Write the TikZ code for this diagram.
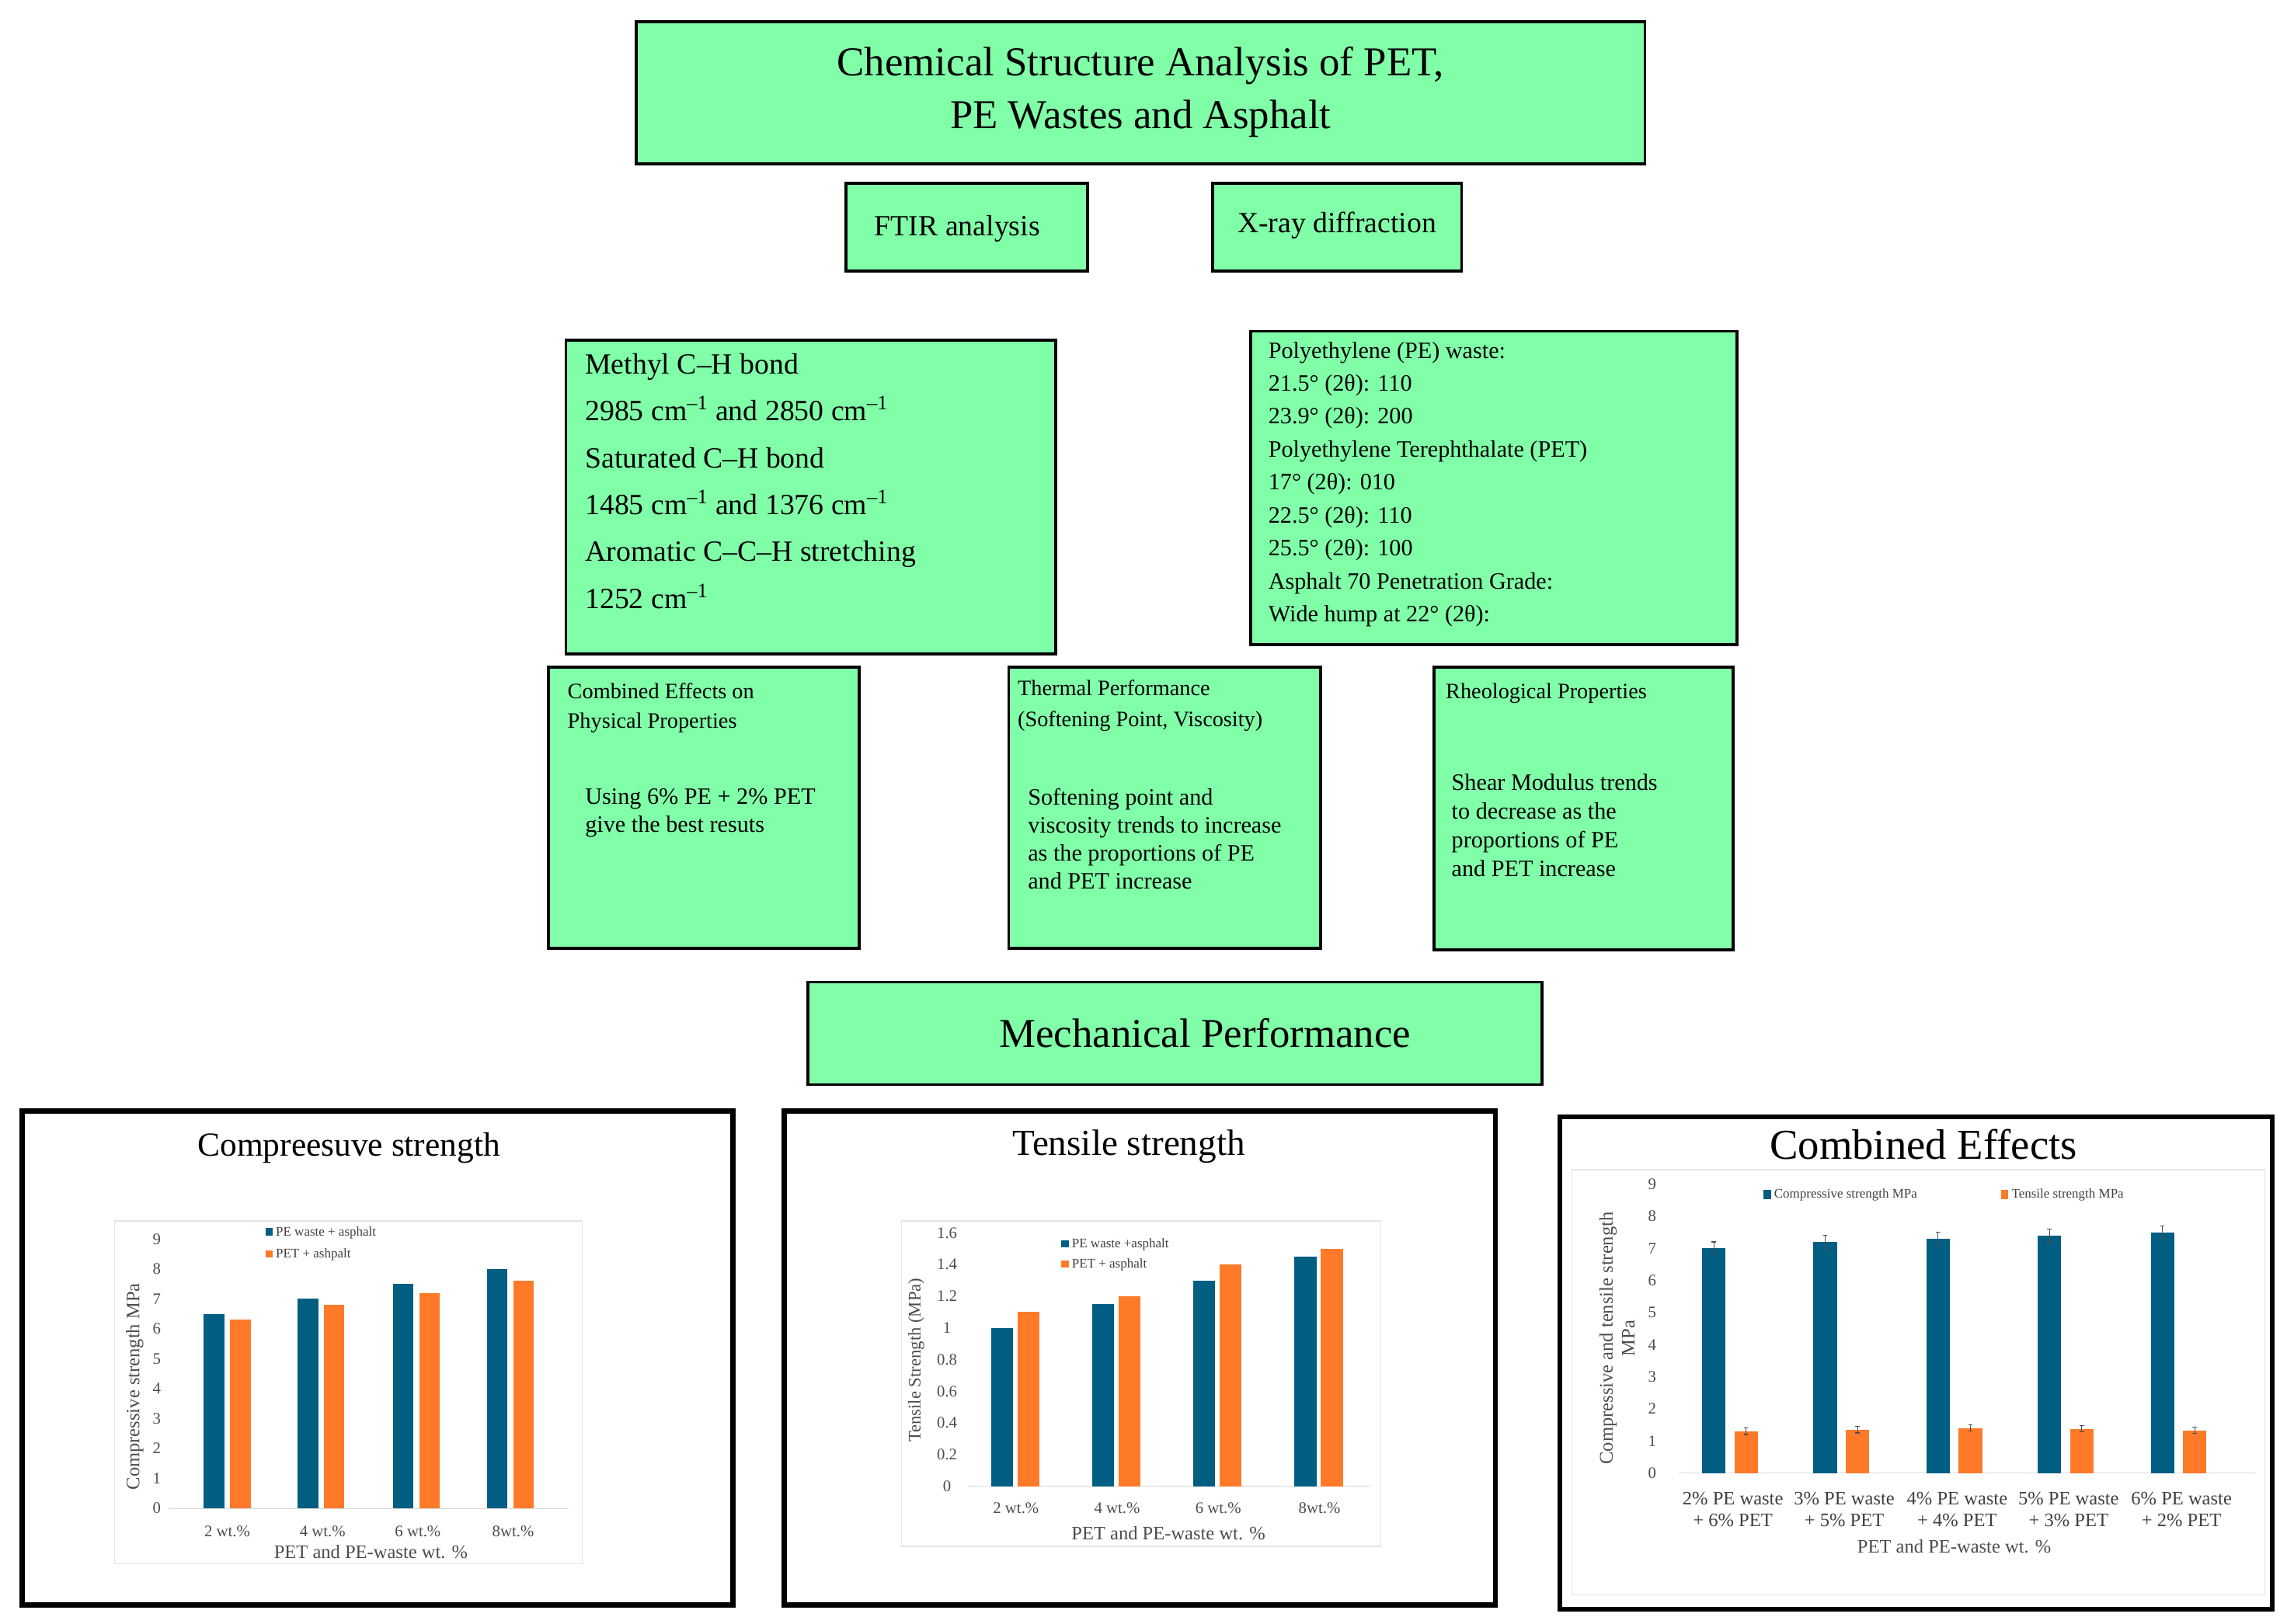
\documentclass[tikz,border=0pt]{standalone}
\usepackage{fontspec}
\setmainfont{Liberation Serif}
\definecolor{gbox}{RGB}{128,255,168}
\definecolor{cblue}{RGB}{0,94,130}
\definecolor{corange}{RGB}{255,122,40}
\begin{document}
\begin{tikzpicture}[x=1pt,y=-1pt,
  box/.style={draw=black,line width=2pt,fill=gbox},
  frame/.style={draw=black,line width=3.5pt},
  inner/.style={draw=black!10,line width=0.6pt},
  txt/.style={inner sep=0pt,align=left,anchor=north west},
  tick/.style={inner sep=0pt,font=\fontsize{11}{11}\selectfont,text=black!70},
  leg/.style={inner sep=0pt,anchor=west,font=\fontsize{9}{9}\selectfont,text=black!75}]
\useasboundingbox (0,0) rectangle (1560,1108);
% top boxes
\draw[box] (434,15) rectangle (1122,112);
\node[align=center,font=\fontsize{28}{36}\selectfont] (title) at (778,63) {Chemical Structure Analysis of PET,\\PE Wastes and Asphalt};
\draw[box] (577,125) rectangle (742,185);
\node[font=\fontsize{20}{24}\selectfont] (ftir) at (653,156) {FTIR analysis};
\draw[box] (827,125) rectangle (997,185);
\node[font=\fontsize{20}{24}\selectfont] (xrd) at (912,154) {X-ray diffraction};
% FTIR details
\draw[box] (386,232) rectangle (720,446);
\node[txt,font=\fontsize{20}{32}\selectfont] (methyl) at (399,241) {Methyl C–H bond\\
2985 cm\textsuperscript{–1} and 2850 cm\textsuperscript{–1}\\
Saturated C–H bond\\
1485 cm\textsuperscript{–1} and 1376 cm\textsuperscript{–1}\\
Aromatic C–C–H stretching\\
1252 cm\textsuperscript{–1}};
% XRD details
\draw[box] (853,226) rectangle (1185,440);
\node[txt,font=\fontsize{16}{22.5}\selectfont] (xrdd) at (865,233) {Polyethylene (PE) waste:\\
21.5° (2θ): 110\\
23.9° (2θ): 200\\
Polyethylene Terephthalate (PET)\\
17° (2θ): 010\\
22.5° (2θ): 110\\
25.5° (2θ): 100\\
Asphalt 70 Penetration Grade:\\
Wide hump at 22° (2θ):};
% three property boxes
\draw[box] (374,455) rectangle (586,647);
\node[txt,font=\fontsize{15}{20}\selectfont] (comb) at (387,466) {Combined Effects on\\Physical Properties};
\node[txt,font=\fontsize{16}{19}\selectfont] (combt) at (399,538) {Using 6\% PE + 2\% PET\\give the best resuts};
\draw[box] (688,455) rectangle (901,647);
\node[txt,font=\fontsize{15}{21}\selectfont] (therm) at (694,464) {Thermal Performance\\(Softening Point, Viscosity)};
\node[txt,font=\fontsize{16}{19}\selectfont] (thermt) at (701,538) {Softening point and\\viscosity trends to increase\\as the proportions of PE\\ and PET increase};
\draw[box] (978,455) rectangle (1182,648);
\node[txt,font=\fontsize{15}{20}\selectfont] (rheo) at (986,466) {Rheological Properties};
\node[txt,font=\fontsize{16}{19.5}\selectfont] (rheot) at (990,528) {Shear Modulus trends\\ to decrease as the\\proportions of PE\\and PET increase};
% mechanical
\draw[box] (551,670) rectangle (1052,740);
\node[font=\fontsize{28}{32}\selectfont] (mech) at (822,705) {Mechanical Performance};
% ===== chart 1
\draw[frame] (15,758) rectangle (500,1095);
\node[font=\fontsize{23}{26}\selectfont] (c1t) at (238,783) {Compreesuve strength};
\draw[inner] (78,833) rectangle (397,1067);
\draw[black!15] (115,1029) -- (388,1029);
\foreach \v in {0,...,9} \node[tick] at (107,{1029-20.4*\v}) {\v};
\foreach \x/\a/\b in {146/6.5/6.3, 210/7/6.8, 275/7.5/7.2, 339/8/7.6}{
  \fill[cblue] (\x-7,1029) rectangle (\x+7,{1029-20.4*\a});
  \fill[corange] (\x+11,1029) rectangle (\x+25,{1029-20.4*\b});}
\foreach \x/\l in {155/2 wt.\%,220/4 wt.\%,285/6 wt.\%,350/8wt.\%} \node[tick] at (\x,1045) {\l};
\node[tick,font=\fontsize{13}{13}\selectfont] (c1x) at (253,1059) {PET and PE-waste wt. \%};
\node[tick,rotate=90,font=\fontsize{13}{13}\selectfont] (c1y) at (92,946) {Compressive strength MPa};
\fill[cblue] (181,838) rectangle (186,843); \node[leg] (l1) at (188,841) {PE waste + asphalt};
\fill[corange] (181,853) rectangle (186,858); \node[leg] (l2) at (188,856) {PET + ashpalt};
% ===== chart 2
\draw[frame] (535,758) rectangle (1020,1095);
\node[font=\fontsize{25}{28}\selectfont] (c2t) at (770,782) {Tensile strength};
\draw[inner] (615,833) rectangle (942,1055);
\draw[black!15] (660,1014) -- (935,1014);
\foreach \v/\s in {0/0,0.2/0.2,0.4/0.4,0.6/0.6,0.8/0.8,1/1,1.2/1.2,1.4/1.4,1.6/1.6} \node[tick] at (646,{1014-108*\v}) {\s};
\foreach \x/\a/\b in {684/1.0/1.1, 753/1.15/1.2, 822/1.3/1.4, 891/1.45/1.5}{
  \fill[cblue] (\x-8,1014) rectangle (\x+7,{1014-108*\a});
  \fill[corange] (\x+10,1014) rectangle (\x+25,{1014-108*\b});}
\foreach \x/\l in {693/2 wt.\%,762/4 wt.\%,831/6 wt.\%,900/8wt.\%} \node[tick] at (\x,1029) {\l};
\node[tick,font=\fontsize{13}{13}\selectfont] (c2x) at (797,1046) {PET and PE-waste wt. \%};
\node[tick,rotate=90,font=\fontsize{12}{12}\selectfont] (c2y) at (625,928) {Tensile Strength (MPa)};
\fill[cblue] (724,846) rectangle (729,851); \node[leg] (l3) at (731,849) {PE waste +asphalt};
\fill[corange] (724,860) rectangle (729,865); \node[leg] (l4) at (731,863) {PET + asphalt};
% ===== chart 3
\draw[frame] (1064,762) rectangle (1550,1098);
\node[font=\fontsize{29}{32}\selectfont] (c3t) at (1312,781) {Combined Effects};
\draw[inner] (1072,798) rectangle (1545,1088);
\draw[black!15] (1145,1005) -- (1538,1005);
\foreach \v in {0,...,9} \node[tick] at (1127,{1005-21.9*\v}) {\v};
\foreach \x/\a/\b in {1169/7.0/1.3, 1245/7.2/1.35, 1322/7.3/1.4, 1398/7.4/1.38, 1475/7.5/1.33}{
  \fill[cblue] (\x-8,1005) rectangle (\x+8,{1005-21.9*\a});
  \fill[corange] (\x+14,1005) rectangle (\x+30,{1005-21.9*\b});
  \draw[black!70,line width=0.6pt] (\x,{1005-21.9*(\a-0.2)}) -- (\x,{1005-21.9*(\a+0.2)})
    (\x-1.5,{1005-21.9*(\a-0.2)}) -- (\x+1.5,{1005-21.9*(\a-0.2)})
    (\x-1.5,{1005-21.9*(\a+0.2)}) -- (\x+1.5,{1005-21.9*(\a+0.2)});
  \draw[black!70,line width=0.6pt] (\x+22,{1005-21.9*(\b-0.1)}) -- (\x+22,{1005-21.9*(\b+0.1)})
    (\x+20.5,{1005-21.9*(\b-0.1)}) -- (\x+23.5,{1005-21.9*(\b-0.1)})
    (\x+20.5,{1005-21.9*(\b+0.1)}) -- (\x+23.5,{1005-21.9*(\b+0.1)});}
\foreach \x/\n/\m in {1182/2/6,1258/3/5,1335/4/4,1411/5/3,1488/6/2}
  \node[tick,align=center,font=\fontsize{13}{15}\selectfont,text=black!75] at (\x,1030) {\n\% PE waste\\+ \m\% PET};
\node[tick,font=\fontsize{13}{13}\selectfont] (c3x) at (1333,1055) {PET and PE-waste wt. \%};
\node[tick,rotate=90,align=center,font=\fontsize{13}{15}\selectfont] (c3y) at (1103,913) {Compressive and tensile strength\\MPa};
\fill[cblue] (1203,812) rectangle (1208,818); \node[leg] (l5) at (1210,815) {Compressive strength MPa};
\fill[corange] (1365,812) rectangle (1370,818); \node[leg] (l6) at (1372,815) {Tensile strength MPa};
\end{tikzpicture}
\end{document}
